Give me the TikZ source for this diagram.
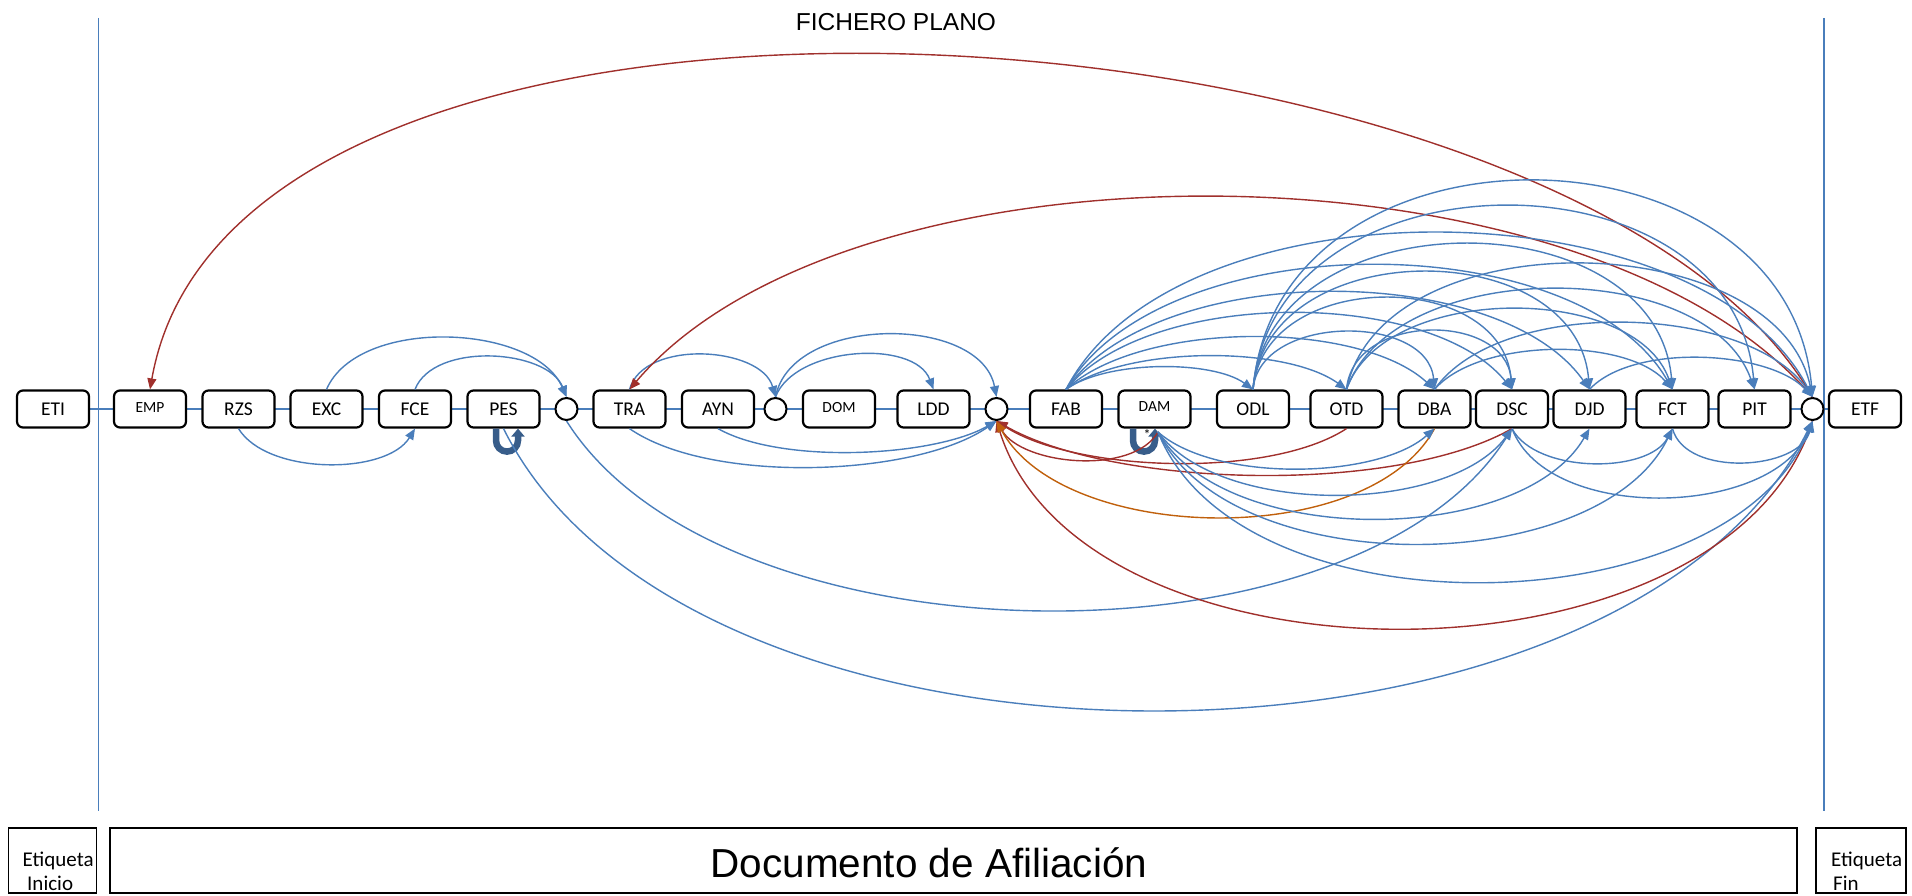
\documentclass[tikz,border=0pt]{standalone}
\usepackage{fontspec}
\setmainfont{Carlito}
\newfontfamily\arialf{Liberation Sans}
\usetikzlibrary{arrows.meta,calc}
\pgfdeclarelayer{background}
\pgfsetlayers{background,main}
\definecolor{lb}{RGB}{74,126,187}
\definecolor{dr}{RGB}{160,48,44}
\definecolor{orng}{RGB}{192,96,12}
\definecolor{loopc}{RGB}{56,93,138}
% #1 factor, #2 style, #3 from, #4 to, #5 sagitta (+ up, - down)
\newcommand\conn[5][1.35]{%
  \draw[#2] let \p1=(#3), \p2=(#4),
    \n0={scalar(abs(\x2-\x1))},
    \n1={min(85,2*atan(2*abs(#5)/max(1,\n0))*#1)},
    \n2={((#5)>0 ? 1 : -1)*\n1},
    \n3={(\x2>\x1) ? \n2 : 180-\n2},
    \n5={180-\n3},
    \n4={4*abs(#5)/(3*sin(\n1))}
  in (\p1) .. controls +(\n3:\n4) and +(\n5:\n4) .. (\p2);}
\begin{document}
\begin{tikzpicture}[x=1pt,y=1pt,
  bx/.style={draw=black,line width=2.2pt,rounded corners=6pt,fill=white,minimum width=72pt,minimum height=37pt,inner sep=0pt,font=\fontsize{19.5}{21}\selectfont},
  sbx/.style={bx,font=\fontsize{15.5}{17}\selectfont},
  cc/.style={draw=black,line width=2pt,circle,fill=white,minimum size=22pt,inner sep=0pt},
  tip/.style={-{Triangle[length=11pt,width=9pt]}},
  bl/.style={draw=lb,line width=1.4pt,tip},
  rd/.style={draw=dr,line width=1.4pt,tip},
  og/.style={draw=orng,line width=1.4pt,tip},
  selfloop/.style={draw=loopc,line width=6.5pt,-{Triangle[length=8pt,width=13pt]}},
  vline/.style={draw=lb,line width=1.2pt},
  bbox/.style={draw=black,line width=1.5pt},
  lbl/.style={anchor=base west,inner sep=0pt,font=\fontsize{21}{23}\selectfont},
]
\useasboundingbox (0,0) rectangle (1912,895);
% row of boxes
\node[bx]  (ETI) at (53,486) {ETI};
\node[sbx] (EMP) at (150,486) {\raisebox{2pt}{EMP}};
\node[bx]  (RZS) at (238.5,486) {RZS};
\node[bx]  (EXC) at (326.5,486) {EXC};
\node[bx]  (FCE) at (415,486) {FCE};
\node[bx]  (PES) at (503.5,486) {PES};
\node[cc]  (c1)  at (566.5,486) {};
\node[bx]  (TRA) at (629.5,486) {TRA};
\node[bx]  (AYN) at (718,486) {AYN};
\node[cc]  (c2)  at (775.5,486) {};
\node[sbx] (DOM) at (839,486) {\raisebox{3pt}{DOM}};
\node[bx]  (LDD) at (933.5,486) {LDD};
\node[cc]  (c3)  at (996.5,486) {};
\node[bx]  (FAB) at (1066,486) {FAB};
\node[sbx] (DAM) at (1154.5,486) {\raisebox{4pt}{DAM}};
\node[bx]  (ODL) at (1253,486) {ODL};
\node[bx]  (OTD) at (1346.5,486) {OTD};
\node[bx]  (DBA) at (1434.5,486) {DBA};
\node[bx]  (DSC) at (1512,486) {DSC};
\node[bx]  (DJD) at (1589.5,486) {DJD};
\node[bx]  (FCT) at (1672.5,486) {FCT};
\node[bx]  (PIT) at (1754.5,486) {PIT};
\node[cc]  (c4)  at (1812.5,486) {};
\node[bx]  (ETF) at (1865,486) {ETF};
\coordinate (dams) at (1158,463);
\coordinate (vl1) at (98.5,877); \coordinate (vl2) at (98.5,84);
\coordinate (vr1) at (1824,877); \coordinate (vr2) at (1824,84);
\begin{pgfonlayer}{background}
  \draw[lb,line width=2pt] (ETI.east) -- (ETF.west);
  \draw[vline] (vl1) -- (vl2);
  \draw[vline] (vr1) -- (vr2);
\end{pgfonlayer}
% title
\node[font=\arialf\fontsize{24.5}{27}\selectfont] (title) at (896,873) {FICHERO PLANO};
% bottom boxes
\draw[bbox] (8.5,2) rectangle (96.5,67);
\draw[bbox] (110,2) rectangle (1797,67);
\draw[bbox] (1816,2) rectangle (1906,67);
\node[font=\arialf\fontsize{40.5}{44}\selectfont] (doc) at (929,32) {Documento de Afiliación};
\node[lbl] (ei1) at (22.5,28.5) {Etiqueta};
\node[lbl] (ei2) at (27,5) {Inicio};
\node[lbl] (ef1) at (1831,28.5) {Etiqueta};
\node[lbl] (ef2) at (1833,5) {Fin};
% self loops
\draw[selfloop] ($(PES.south)+(-7.5,0)$) -- ++(0,-12) arc[start angle=180,end angle=360,radius=11] -- ++(0,12);
\draw[selfloop] ($(DAM.south)+(-21.5,0)$) -- ++(0,-12) arc[start angle=180,end angle=360,radius=11] -- ++(0,12);
\node[font=\fontsize{14}{14}\selectfont,inner sep=0pt] (star) at (1147,460) {*};
% left part
\conn{bl}{EXC.north}{c1.north}{55}
\conn{bl}{FCE.north}{c1.north}{36}
\conn{bl}{RZS.south}{FCE.south}{-35}
\conn{bl}{TRA.north}{c2.north}{38}
\conn{bl}{c2.north}{LDD.north}{38}
\conn{bl}{c2.north}{c3.north}{62}
\conn{bl}{TRA.south}{c3.south}{-42}
\conn{bl}{AYN.south}{c3.south}{-27}
\conn{bl}{PES.south}{c4.south}{-285}
\conn{bl}{c1.south}{DSC.south}{-185}
% red / orange
\draw[rd] (c4.north) .. controls +(120:470) and +(80:500) .. (EMP.north);
\conn{rd}{c4.north}{TRA.north}{196}
\conn{rd}{c4.south}{c3.south}{-207}
\conn{rd}{OTD.south}{c3.south}{-38}
\conn{rd}{dams}{c3.south}{-33}
\conn{rd}{DSC.south}{c3.south}{-50}
\conn{og}{DBA.south}{c3.south}{-92}
% DAM fan below
\conn{bl}{dams}{DBA.south}{-38}
\conn{bl}{dams}{DSC.south}{-64}
\conn{bl}{dams}{DJD.south}{-88}
\conn{bl}{dams}{FCT.south}{-113}
\conn{bl}{dams}{c4.south}{-155}
\conn{bl}{DSC.south}{FCT.south}{-34}
\conn{bl}{DSC.south}{c4.south}{-72}
\conn{bl}{FCT.south}{c4.south}{-37}
% top arcs right part
\conn{bl}{FAB.north}{ODL.north}{22}
\conn{bl}{FAB.north}{OTD.north}{33}
\conn{bl}{FAB.north}{DBA.north}{52}
\conn{bl}{FAB.north}{DSC.north}{76}
\conn{bl}{FAB.north}{DJD.north}{97}
\conn{bl}{FAB.north}{FCT.north}{124}
\conn{bl}{FAB.north}{c4.north}{160}
\conn{bl}{ODL.north}{DBA.north}{57}
\conn{bl}{ODL.north}{DSC.north}{91}
\conn{bl}{ODL.north}{DJD.north}{117}
\conn{bl}{ODL.north}{FCT.north}{145}
\conn{bl}{ODL.north}{PIT.north}{183}
\conn{bl}{ODL.north}{c4.north}{212}
\conn{bl}{OTD.north}{DSC.north}{58}
\conn{bl}{OTD.north}{FCT.north}{80}
\conn{bl}{OTD.north}{PIT.north}{100}
\conn{bl}{OTD.north}{c4.north}{129}
\conn{bl}{DBA.north}{FCT.north}{39}
\conn{bl}{DBA.north}{c4.north}{70}
\conn{bl}{DJD.north}{c4.north}{35}
\end{tikzpicture}
\end{document}
